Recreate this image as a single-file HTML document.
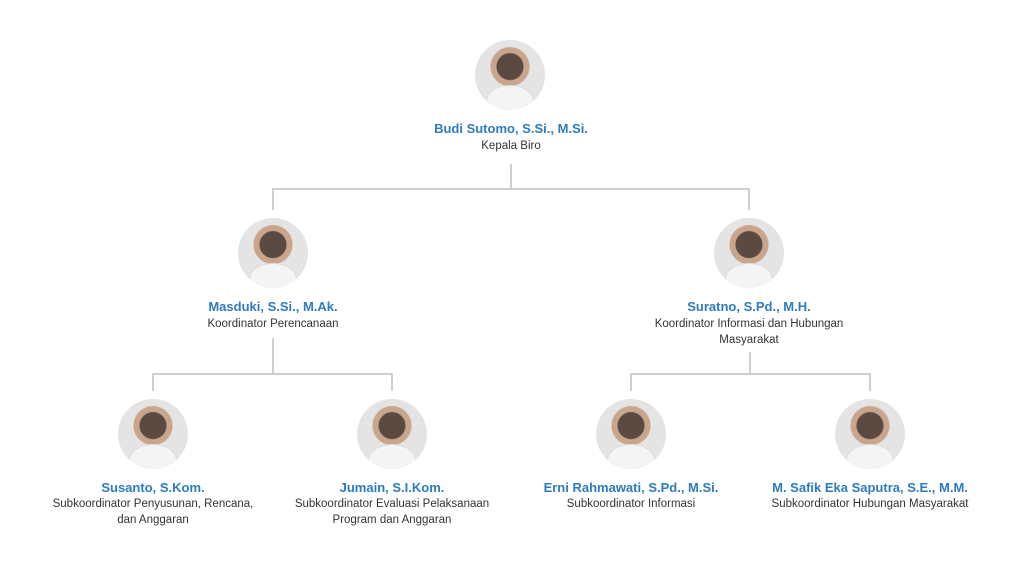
<!DOCTYPE html>
<html><head><meta charset="utf-8"><style>
body{margin:0;width:1024px;height:569px;background:#fff;position:relative;font-family:"Liberation Sans",sans-serif;overflow:hidden}
.c{position:absolute;width:70px;height:70px;border-radius:50%;background:radial-gradient(circle at 50% 38%,#5a4a42 0 13px,#c9a58c 14px 19px,#e4e4e4 20px);overflow:hidden}
.c:after{content:"";position:absolute;left:12px;top:46px;width:46px;height:30px;border-radius:50% 50% 0 0;background:#f4f4f4;box-shadow:0 0 0 1px #ddd}
.n{position:absolute;width:260px;text-align:center;color:#2e7bc0;font-weight:bold;font-size:13px;line-height:16px}
.t{position:absolute;width:230px;text-align:center;color:#333;font-size:11.5px;line-height:16px}
.l{position:absolute;background:#cfcfcf}
</style></head><body>
<div class="c" style="left:475px;top:40px"></div>
<div class="n" style="left:381px;top:121px">Budi Sutomo, S.Si., M.Si.</div>
<div class="t" style="left:396px;top:138px">Kepala Biro</div>
<div class="l" style="left:510px;top:164px;width:2px;height:25px"></div>
<div class="l" style="left:272px;top:188px;width:478px;height:2px"></div>
<div class="l" style="left:272px;top:188px;width:2px;height:22px"></div>
<div class="l" style="left:748px;top:188px;width:2px;height:22px"></div>

<div class="c" style="left:238px;top:218px"></div>
<div class="n" style="left:143px;top:299px">Masduki, S.Si., M.Ak.</div>
<div class="t" style="left:158px;top:316px">Koordinator Perencanaan</div>
<div class="c" style="left:714px;top:218px"></div>
<div class="n" style="left:619px;top:299px">Suratno, S.Pd., M.H.</div>
<div class="t" style="left:634px;top:316px">Koordinator Informasi dan Hubungan Masyarakat</div>

<div class="l" style="left:272px;top:338px;width:2px;height:36px"></div>
<div class="l" style="left:152px;top:373px;width:241px;height:2px"></div>
<div class="l" style="left:152px;top:373px;width:2px;height:18px"></div>
<div class="l" style="left:391px;top:373px;width:2px;height:18px"></div>
<div class="l" style="left:749px;top:352px;width:2px;height:22px"></div>
<div class="l" style="left:630px;top:373px;width:241px;height:2px"></div>
<div class="l" style="left:630px;top:373px;width:2px;height:18px"></div>
<div class="l" style="left:869px;top:373px;width:2px;height:18px"></div>

<div class="c" style="left:118px;top:399px"></div>
<div class="n" style="left:23px;top:480px">Susanto, S.Kom.</div>
<div class="t" style="left:45px;top:496px;width:216px">Subkoordinator Penyusunan, Rencana, dan Anggaran</div>
<div class="c" style="left:357px;top:399px"></div>
<div class="n" style="left:262px;top:480px">Jumain, S.I.Kom.</div>
<div class="t" style="left:282px;top:496px;width:220px">Subkoordinator Evaluasi Pelaksanaan Program dan Anggaran</div>
<div class="c" style="left:596px;top:399px"></div>
<div class="n" style="left:501px;top:480px">Erni Rahmawati, S.Pd., M.Si.</div>
<div class="t" style="left:516px;top:496px">Subkoordinator Informasi</div>
<div class="c" style="left:835px;top:399px"></div>
<div class="n" style="left:740px;top:480px">M. Safik Eka Saputra, S.E., M.M.</div>
<div class="t" style="left:750px;top:496px;width:240px">Subkoordinator Hubungan Masyarakat</div>
</body></html>
